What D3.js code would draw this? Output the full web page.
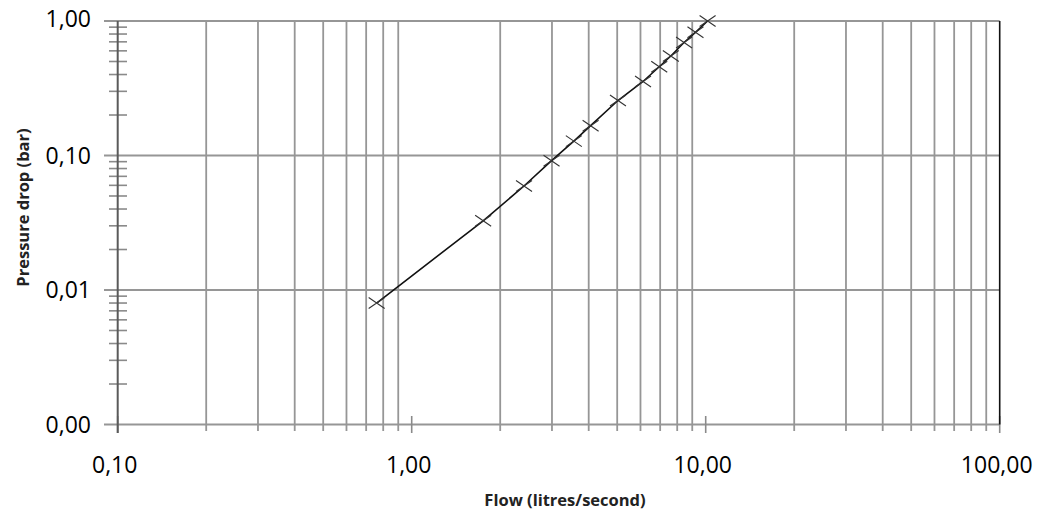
<!DOCTYPE html>
<html>
<head>
<meta charset="utf-8">
<script src="https://cdn.jsdelivr.net/npm/d3@7"></script>
<style>
  html, body { margin: 0; padding: 0; background: #fff; }
  svg { display: block; }
  text { font-family: "Open Sans", "Liberation Sans", Arial, sans-serif; fill: #000; }
</style>
</head>
<body>
<svg id="chart" width="1040" height="513"></svg>
<script>
// ---- data ----
const flow = [0.76, 1.75, 2.41, 2.99, 3.56, 4.06, 5.03, 6.12, 6.95, 7.61, 8.44, 9.23, 10.15];
const pressure = [0.008, 0.0327, 0.0593, 0.0915, 0.128, 0.1666, 0.2564, 0.355, 0.457, 0.549, 0.692, 0.824, 1.0];
const xTickValues = [0.1, 1, 10, 100];
const xTickLabels = ["0,10", "1,00", "10,00", "100,00"];
const yTickValues = [0.001, 0.01, 0.1, 1];
const yTickLabels = ["0,00", "0,01", "0,10", "1,00"];
const xTitle = "Flow (litres/second)";
const yTitle = "Pressure drop (bar)";

// ---- layout ----
const L = 117.7, R = 999.7, T = 21, B = 424.5;
const svg = d3.select("#chart");

const x = d3.scaleLog().domain([0.1, 100]).range([L, R]);
const y = d3.scaleLog().domain([0.001, 1]).range([B, T]);

const isDecade = v => Math.abs(Math.log10(v) - Math.round(Math.log10(v))) < 1e-9;
const xMinor = x.ticks().filter(v => !isDecade(v));
const yMinor = y.ticks().filter(v => !isDecade(v));

const grid = svg.append("g");
const gridColor = "#969696";

// vertical minor gridlines (extend below axis as ticks)
grid.selectAll("line.vx").data(xMinor).join("line")
  .attr("x1", d => x(d)).attr("x2", d => x(d))
  .attr("y1", T).attr("y2", B + 6.5)
  .attr("stroke", gridColor).attr("stroke-width", 1.8);

// horizontal decade gridlines (extend left of axis)
grid.selectAll("line.hy").data(yTickValues).join("line")
  .attr("x1", 104).attr("x2", R)
  .attr("y1", d => y(d)).attr("y2", d => y(d))
  .attr("stroke", gridColor).attr("stroke-width", 1.8);

// y minor ticks crossing the axis
grid.selectAll("line.ym").data(yMinor).join("line")
  .attr("x1", 109).attr("x2", 127)
  .attr("y1", d => y(d)).attr("y2", d => y(d))
  .attr("stroke", "#8a8a8a").attr("stroke-width", 1.6);

// x decade ticks (short, crossing the axis)
grid.selectAll("line.xM").data(xTickValues).join("line")
  .attr("x1", d => x(d)).attr("x2", d => x(d))
  .attr("y1", B - 8.5).attr("y2", B + 8.5)
  .attr("stroke", "#8a8a8a").attr("stroke-width", 1.6);

// left axis
svg.append("line")
  .attr("x1", x(0.1)).attr("x2", x(0.1))
  .attr("y1", T).attr("y2", B + 8.5)
  .attr("stroke", "#5a5a5a").attr("stroke-width", 2);

// right border
svg.append("line")
  .attr("x1", x(100)).attr("x2", x(100))
  .attr("y1", T).attr("y2", B)
  .attr("stroke", "#111").attr("stroke-width", 1.6);

// y tick labels
svg.append("g").selectAll("text").data(yTickValues).join("text")
  .attr("x", 91).attr("y", d => y(d) - (d === 1 ? 2.5 : 0))
  .attr("dy", "0.36em")
  .attr("text-anchor", "end")
  .style("font-size", "23px")
  .text((d, i) => yTickLabels[i]);

// x tick labels
svg.append("g").selectAll("text").data(xTickValues).join("text")
  .attr("x", d => x(d) - 3).attr("y", 473)
  .attr("text-anchor", "middle")
  .style("font-size", "23px")
  .text((d, i) => xTickLabels[i]);

// axis titles
svg.append("text")
  .attr("x", 565).attr("y", 506)
  .attr("text-anchor", "middle")
  .style("font-size", "16.5px").style("font-weight", "bold").style("fill", "#222")
  .text(xTitle);

svg.append("text")
  .attr("transform", "translate(29,207.5) rotate(-90)")
  .attr("text-anchor", "middle")
  .style("font-size", "16.5px").style("font-weight", "bold").style("fill", "#222")
  .text(yTitle);

// data line
const pts = flow.map((f, i) => [f, pressure[i]]);
svg.append("path")
  .datum(pts)
  .attr("fill", "none")
  .attr("stroke", "#111")
  .attr("stroke-width", 1.6)
  .attr("d", d3.line().x(d => x(d[0])).y(d => y(d[1])));

// cross markers
svg.append("g").selectAll("path").data(pts).join("path")
  .attr("transform", d => `translate(${x(d[0])},${y(d[1])})`)
  .attr("d", "M-8,-5.5L8,5.5M-8,5.5L8,-5.5")
  .attr("fill", "none")
  .attr("stroke", "#333")
  .attr("stroke-width", 1.1);
</script>
</body>
</html>
